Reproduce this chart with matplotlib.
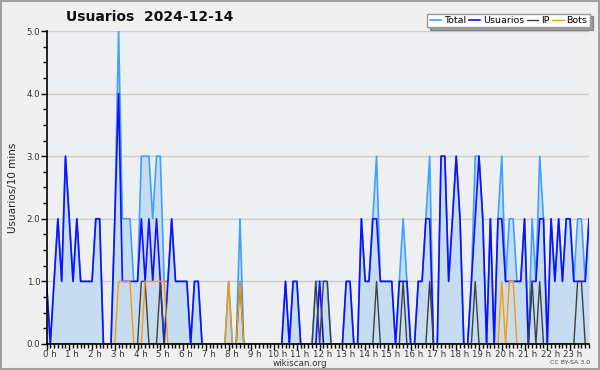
import numpy as np
import matplotlib
matplotlib.use("Agg")
import matplotlib.pyplot as plt
from matplotlib.patches import Rectangle
from matplotlib.ticker import MultipleLocator
import matplotlib.transforms as mtransforms

# %% data (10 min steps, 144 points)

usuarios = [1, 0, 1, 2, 1, 3, 2, 1, 2, 1, 1, 1, 1, 2, 2, 0, 0, 0, 2, 4,
            1, 1, 1, 1, 1, 2, 1, 2, 1, 2, 1, 0, 1, 2, 1, 1, 1, 1, 0, 1,
            1, 0, 0, 0, 0, 0, 0, 0, 0, 0, 0, 0, 0, 0, 0, 0, 0, 0, 0, 0,
            0, 0, 0, 1, 0, 1, 1, 0, 0, 0, 0, 0, 1, 0, 0, 0, 0, 0, 0, 1,
            1, 0, 0, 2, 1, 1, 2, 2, 1, 1, 1, 1, 0, 1, 1, 1, 0, 0, 1, 1,
            2, 2, 0, 0, 3, 3, 1, 2, 3, 2, 0, 0, 1, 2, 3, 2, 0, 2, 0, 2,
            2, 1, 1, 1, 1, 1, 2, 0, 1, 1, 2, 2, 0, 2, 1, 2, 1, 2, 2, 1,
            1, 1, 1, 2]

ip = [0, 0, 0, 0, 0, 0, 0, 0, 0, 0, 0, 0, 0, 0, 0, 0, 0, 0, 0, 0,
      0, 0, 0, 0, 0, 1, 1, 0, 0, 0, 1, 0, 0, 0, 0, 0, 0, 0, 0, 0,
      0, 0, 0, 0, 0, 0, 0, 0, 0, 0, 0, 1, 0, 0, 0, 0, 0, 0, 0, 0,
      0, 0, 0, 0, 0, 0, 0, 0, 0, 0, 0, 1, 0, 1, 1, 0, 0, 0, 0, 0,
      0, 0, 0, 0, 0, 0, 0, 1, 0, 0, 0, 0, 0, 0, 1, 0, 0, 0, 0, 0,
      0, 1, 0, 0, 0, 0, 0, 0, 0, 0, 0, 0, 0, 1, 0, 0, 0, 0, 0, 0,
      0, 0, 0, 0, 0, 0, 0, 0, 1, 0, 1, 0, 0, 0, 0, 0, 0, 0, 0, 0,
      1, 1, 0, 0]

bots = [0, 0, 0, 0, 0, 0, 0, 0, 0, 0, 0, 0, 0, 0, 0, 0, 0, 0, 0, 1,
        1, 1, 1, 0, 0, 0, 1, 1, 1, 1, 1, 1, 0, 0, 0, 0, 0, 0, 0, 0,
        0, 0, 0, 0, 0, 0, 0, 0, 1, 0, 0, 1, 0, 0, 0, 0, 0, 0, 0, 0,
        0, 0, 0, 0, 0, 0, 0, 0, 0, 0, 0, 0, 0, 0, 0, 0, 0, 0, 0, 0,
        0, 0, 0, 0, 0, 0, 0, 0, 0, 0, 0, 0, 0, 0, 0, 0, 0, 0, 0, 0,
        0, 0, 0, 0, 0, 0, 0, 0, 0, 0, 0, 0, 0, 0, 0, 0, 0, 0, 0, 0,
        1, 0, 1, 1, 0, 0, 0, 0, 0, 0, 0, 0, 0, 0, 0, 0, 0, 0, 0, 0,
        0, 0, 0, 0]

total = [1, 0, 1, 2, 1, 3, 2, 1, 2, 1, 1, 1, 1, 2, 2, 0, 0, 0, 2, 5,
         2, 2, 2, 1, 1, 3, 3, 3, 2, 3, 3, 1, 1, 2, 1, 1, 1, 1, 0, 1,
         1, 0, 0, 0, 0, 0, 0, 0, 1, 0, 0, 2, 0, 0, 0, 0, 0, 0, 0, 0,
         0, 0, 0, 1, 0, 1, 1, 0, 0, 0, 0, 1, 1, 1, 1, 0, 0, 0, 0, 1,
         1, 0, 0, 2, 1, 1, 2, 3, 1, 1, 1, 1, 0, 1, 2, 1, 0, 0, 1, 1,
         2, 3, 0, 0, 3, 3, 1, 2, 3, 2, 0, 0, 1, 3, 3, 2, 0, 2, 0, 2,
         3, 1, 2, 2, 1, 1, 2, 0, 2, 1, 3, 2, 0, 2, 1, 2, 1, 2, 2, 1,
         2, 2, 1, 2]

hour_labels = ["%d h" % h for h in range(24)]

# %% plot

x = np.arange(len(total)) / 6.0

fig = plt.figure(figsize=(6, 3.7), dpi=100, facecolor="#f0f0f0")
fig.patches.append(Rectangle((0.001, 0.002), 0.997, 0.995, transform=fig.transFigure,
                             fill=False, edgecolor="#a0a0a0", linewidth=1.5))

ax = fig.add_axes([0.0775, 0.0703, 0.9042, 0.8459])
ax.set_facecolor("#eeeff1")

ax.fill_between(x, total, 0, color="#c6dcf0", linewidth=0)
ax.plot(x, total, color="#3fa0ff", linewidth=1.2, label="Total")
ax.plot(x, usuarios, color="#1010ff", linewidth=1.2, label="Usuarios")
ax.plot(x, ip, color="#404040", linewidth=1.0, label="IP")
ax.plot(x, bots, color="#ff9900", linewidth=1.0, label="Bots")

ax.set_xlim(0, x[-1])
ax.set_ylim(0, 5)

ax.set_yticks([0, 1, 2, 3, 4, 5])
ax.set_yticklabels(["0.0", "1.0", "2.0", "3.0", "4.0", "5.0"])
ax.yaxis.set_minor_locator(MultipleLocator(0.25))
ax.set_xticks(range(24))
ax.set_xticklabels(hour_labels)
ax.xaxis.set_minor_locator(MultipleLocator(1 / 6.0))

ax.tick_params(axis="both", which="major", labelsize=6.2, length=4, width=1,
               colors="black", labelcolor="#333333", pad=0.5)
ax.tick_params(axis="both", which="minor", length=3, width=1, colors="black")
offset = mtransforms.ScaledTranslation(3 / 100, 0, fig.dpi_scale_trans)
for lab in ax.get_xticklabels():
    lab.set_transform(lab.get_transform() + offset)

ax.grid(axis="y", color="#cccccc", linewidth=1)
ax.set_axisbelow(True)
for s in ["top", "right"]:
    ax.spines[s].set_visible(False)
ax.spines["left"].set_linewidth(1.2)
ax.spines["bottom"].set_linewidth(1.2)

ax.set_ylabel("Usuarios/10 mins", fontsize=7.5, color="#222222", labelpad=6)

fig.text(0.25, 0.955, "Usuarios  2024-12-14", ha="center", va="center",
         fontsize=10, fontweight="bold", color="#111111")
fig.text(0.5, 0.018, "wikiscan.org", ha="center", va="center", fontsize=6.3, color="#333333")
fig.text(0.983, 0.02, "CC BY-SA 3.0", ha="right", va="center", fontsize=4.5, color="#444444")

leg = fig.legend(loc="upper right", bbox_to_anchor=(0.983, 0.963), ncol=4, fontsize=6.8,
                 frameon=True, fancybox=False, shadow=True, handlelength=1.2,
                 handletextpad=0.3, columnspacing=0.3, borderpad=0.25, borderaxespad=0)
leg.get_frame().set_edgecolor("#999999")
leg.get_frame().set_linewidth(1)

fig.savefig("out.png", dpi=100, facecolor=fig.get_facecolor())
